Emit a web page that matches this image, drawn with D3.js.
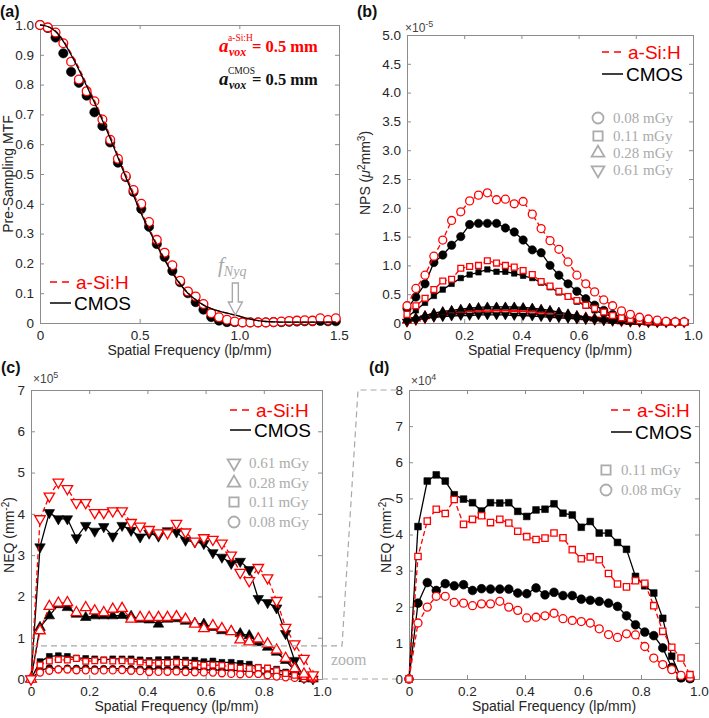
<!DOCTYPE html>
<html><head><meta charset="utf-8">
<script src="https://cdn.jsdelivr.net/npm/d3@7"></script>
<style>body{margin:0;background:#fff}svg{display:block}</style>
</head><body>
<svg id="fig" width="709" height="718"></svg>
<script>
// ---------------- DATA ----------------
// (a) pre-sampling MTF
const mtfFreq = [0,0.039,0.078,0.117,0.156,0.195,0.234,0.273,0.313,0.352,0.391,0.43,0.469,0.508,0.547,0.586,0.625,0.664,0.703,0.742,0.781,0.82,0.859,0.898,0.938,0.977,1.016,1.055,1.094,1.133,1.172,1.211,1.25,1.289,1.328,1.367,1.406,1.445,1.484];
const mtfASi = [1.0,0.992,0.975,0.939,0.877,0.817,0.778,0.744,0.683,0.615,0.551,0.493,0.446,0.40,0.339,0.279,0.236,0.194,0.142,0.106,0.089,0.064,0.033,0.019,0.011,0.005,0.002,0.002,0.002,0.002,0.003,0.005,0.007,0.008,0.009,0.008,0.016,0.01,0.016];
const mtfCMOS = [1.0,0.99,0.958,0.905,0.843,0.806,0.763,0.707,0.661,0.606,0.538,0.49,0.44,0.383,0.323,0.265,0.222,0.175,0.137,0.10,0.07,0.045,0.02,0.008,0.003,0.003,0.002,0.002,0.002,0.002,0.003,0.003,0.004,0.005,0.006,0.006,0.007,0.006,0.006];
const mtfFitASi = [1.0,0.995,0.98,0.948,0.905,0.856,0.802,0.747,0.688,0.628,0.563,0.498,0.436,0.375,0.318,0.265,0.216,0.172,0.133,0.102,0.079,0.061,0.048,0.04,0.033,0.027,0.02,0.013,0.008,0.005,0.004,0.003,0.003,0.003,0.003,0.003,0.003,0.003,0.003];
const mtfFitCMOS = [1.0,0.995,0.978,0.945,0.9,0.85,0.795,0.74,0.68,0.62,0.555,0.49,0.428,0.367,0.312,0.26,0.212,0.168,0.13,0.1,0.078,0.06,0.048,0.04,0.033,0.027,0.02,0.013,0.008,0.005,0.004,0.003,0.003,0.003,0.003,0.003,0.003,0.003,0.003];

// (b)-(d) frequency samples
const freq = [0,0.031,0.063,0.094,0.125,0.156,0.188,0.219,0.25,0.281,0.313,0.344,0.375,0.406,0.438,0.469,0.5,0.531,0.563,0.594,0.625,0.656,0.688,0.719,0.75,0.781,0.813,0.844,0.875,0.906,0.938,0.969];

// (b) NPS, units of 1e-5
const npsASi008 = [0.30,0.60,0.83,1.16,1.44,1.78,1.93,2.12,2.22,2.26,2.14,2.15,2.07,2.11,1.89,1.64,1.43,1.28,1.06,0.83,0.68,0.54,0.40,0.30,0.21,0.15,0.10,0.07,0.05,0.03,0.02,0.02];
const npsCMOS008 = [0.25,0.45,0.68,1.05,1.18,1.35,1.50,1.71,1.73,1.73,1.73,1.65,1.58,1.44,1.27,1.22,1.0,0.83,0.68,0.55,0.42,0.31,0.22,0.15,0.10,0.06,0.04,0.03,0.02,0.02,0.02,0.02];
const npsASi011 = [0.15,0.30,0.43,0.58,0.73,0.76,0.95,0.98,1.0,1.08,1.04,1.0,0.97,0.91,0.84,0.72,0.64,0.55,0.46,0.39,0.31,0.25,0.19,0.13,0.09,0.06,0.04,0.03,0.02,0.02,0.01,0.01];
const npsCMOS011 = [0.10,0.22,0.35,0.47,0.58,0.68,0.78,0.84,0.88,0.93,0.89,0.89,0.86,0.82,0.78,0.70,0.62,0.53,0.46,0.37,0.30,0.22,0.16,0.11,0.07,0.05,0.03,0.02,0.02,0.01,0.01,0.01];
const npsASi028 = [0.04,0.08,0.12,0.15,0.18,0.2,0.22,0.24,0.25,0.25,0.26,0.26,0.26,0.25,0.24,0.22,0.2,0.17,0.14,0.12,0.1,0.08,0.06,0.04,0.03,0.02,0.02,0.01,0.01,0.01,0.01,0.01];
const npsCMOS028 = [0.05,0.09,0.13,0.17,0.2,0.22,0.24,0.26,0.27,0.28,0.28,0.28,0.28,0.27,0.26,0.24,0.22,0.19,0.16,0.13,0.1,0.08,0.06,0.04,0.03,0.02,0.02,0.01,0.01,0.01,0.01,0.01];
const npsASi061 = [0.02,0.05,0.08,0.11,0.13,0.15,0.16,0.17,0.17,0.17,0.17,0.17,0.16,0.16,0.15,0.14,0.12,0.11,0.1,0.08,0.07,0.06,0.05,0.04,0.03,0.02,0.02,0.01,0.01,0.01,0.01,0.01];
const npsCMOS061 = [0.02,0.05,0.08,0.1,0.11,0.12,0.13,0.13,0.14,0.14,0.14,0.14,0.13,0.13,0.12,0.11,0.1,0.09,0.08,0.07,0.06,0.05,0.04,0.03,0.03,0.02,0.02,0.01,0.01,0.01,0.01,0.01];

// (c)/(d) NEQ, units of 1e4 mm^-2
const neqASi061 = [0,38.8,44.3,47.7,46.1,42.7,42.7,40.3,40.3,40.7,40.7,37.9,37.0,36.2,35.4,35.4,37.7,35.6,33.4,34.2,33.8,32.9,30.0,25.8,23.8,27.0,24.5,19.0,12.5,8.5,5.0,1.0];
const neqCMOS061 = [0,32.0,40.3,38.8,38.8,34.2,37.2,35.8,36.9,34.6,37.2,36.0,34.4,35.3,34.6,35.9,35.6,33.6,33.2,32.8,30.6,29.5,28.0,28.5,26.5,19.5,18.5,17.2,11.0,4.5,0.3,0];
const neqASi028 = [0,11.7,17.6,18.4,18.5,16.1,17.3,16.5,16.1,16.9,17.1,14.5,14.9,14.9,14.9,14.9,15.1,14.5,13.3,12.2,12.9,12.2,11.5,9.5,9.0,9.7,8.5,7.0,5.0,2.5,1.2,0.5];
const neqCMOS028 = [0,12.5,15.3,18.0,17.3,15.7,14.9,15.3,15.3,15.3,15.4,15.2,14.5,14.3,13.3,14.5,14.6,14.0,13.5,13.3,12.5,11.7,11.5,11.0,10.5,8.8,7.7,6.5,4.5,2.0,0.1,0];
const neqASi011 = [0,3.39,4.37,4.70,4.58,4.97,4.28,4.42,4.52,4.33,4.42,4.32,4.09,3.94,3.86,3.90,4.04,3.91,3.58,3.33,3.38,3.30,2.92,2.63,2.55,2.72,2.65,2.03,1.32,0.88,0.58,0.12];
const neqCMOS011 = [0,4.22,5.48,5.65,5.48,5.10,4.98,4.88,4.65,4.88,4.87,4.88,4.64,4.50,4.68,4.70,4.85,4.59,4.54,4.20,4.36,4.04,4.04,3.78,3.59,2.84,2.58,2.38,1.68,0.63,0.03,0.01];
const neqASi008 = [0,1.55,1.99,2.29,2.29,2.12,2.10,2.03,2.08,2.08,2.15,1.99,1.90,1.69,1.71,1.75,1.82,1.67,1.62,1.59,1.55,1.39,1.23,1.15,1.25,1.22,0.90,0.58,0.40,0.26,0.10,0.05];
const neqCMOS008 = [0,2.10,2.67,2.45,2.64,2.58,2.61,2.45,2.50,2.49,2.49,2.49,2.38,2.36,2.52,2.33,2.40,2.31,2.31,2.21,2.18,2.15,2.10,2.01,1.75,1.50,1.30,1.20,0.86,0.32,0.03,0.01];

// tick values / labels
const mtfXTicks = [0,0.5,1.0,1.5];
const mtfYTicks = [0,0.1,0.2,0.3,0.4,0.5,0.6,0.7,0.8,0.9,1.0];
const freqTicks = [0,0.2,0.4,0.6,0.8,1.0];
const npsYTicks = [0,0.5,1,1.5,2,2.5,3,3.5,4,4.5,5];
const neqCYTicks = [0,10,20,30,40,50,60,70];   // 1e4 units -> labelled in x10^5
const neqDYTicks = [0,1,2,3,4,5,6,7,8];        // 1e4 units
const zoomLevel = 8;                           // top of panel (d), 1e4 units
const doseLabelsB = ["0.08 mGy","0.11 mGy","0.28 mGy","0.61 mGy"];
const doseLabelsC = ["0.61 mGy","0.28 mGy","0.11 mGy","0.08 mGy"];
const doseLabelsD = ["0.11 mGy","0.08 mGy"];
const detectorNames = ["a-Si:H","CMOS"];

// ---------------- DRAWING ----------------
const svg = d3.select("#fig");
const SANS = "'Liberation Sans', Arial, Helvetica, sans-serif";
const SERIF = "'Liberation Serif', 'Times New Roman', serif";
const RED = "#ff0000", BOX = "#8c8c8c", TXT = "#262626", LEG = "#ababab";

const fmt1 = d => d === 0 ? "0" : d3.format(".1f")(d);
const fmtDiv10 = d => String(d/10);
const fmtInt = d => String(d);

function panel(b, xDom, yDom, xT, yT, xF, yF) {
  const x = d3.scaleLinear().domain(xDom).range([b.l, b.r]);
  const y = d3.scaleLinear().domain(yDom).range([b.b, b.t]);
  const g = svg.append("g");
  g.append("rect").attr("x", b.l).attr("y", b.t).attr("width", b.r-b.l).attr("height", b.b-b.t).attr("fill", "#fff");
  const style = s => {
    s.select(".domain").attr("stroke", BOX).attr("stroke-width", 1);
    s.selectAll(".tick line").attr("stroke", BOX);
    s.selectAll("text").attr("fill", TXT).attr("font-family", SANS).attr("font-size", 13.5);
  };
  g.append("g").attr("transform", `translate(0,${b.b})`)
    .call(d3.axisBottom(x).tickValues(xT).tickFormat(xF).tickSizeInner(-4).tickSizeOuter(0).tickPadding(7)).call(style);
  g.append("g").attr("transform", `translate(0,${b.t})`)
    .call(d3.axisTop(x).tickValues(xT).tickFormat("").tickSizeInner(-4).tickSizeOuter(0)).call(style);
  g.append("g").attr("transform", `translate(${b.l},0)`)
    .call(d3.axisLeft(y).tickValues(yT).tickFormat(yF).tickSizeInner(-4).tickSizeOuter(0).tickPadding(6)).call(style);
  g.append("g").attr("transform", `translate(${b.r},0)`)
    .call(d3.axisRight(y).tickValues(yT).tickFormat("").tickSizeInner(-4).tickSizeOuter(0)).call(style);
  g.selectAll(".domain").attr("stroke-linecap", "square");
  g.append("text").attr("x", (b.l+b.r)/2).attr("y", b.b+32).attr("text-anchor", "middle")
    .attr("font-family", SANS).attr("font-size", 14).attr("fill", TXT).text("Spatial Frequency (lp/mm)");
  const data = g.append("g");
  return {x, y, g: data, root: g};
}

const symType = {circle: d3.symbolCircle, square: d3.symbolSquare, up: d3.symbolTriangle, down: d3.symbolTriangle};
function series(P, xs, ys, opt) {
  const pts = xs.map((d, i) => [d, ys[i]]);
  if (opt.line) {
    P.g.append("path").datum(pts)
      .attr("d", d3.line().x(d => P.x(d[0])).y(d => P.y(d[1])).curve(opt.curve || d3.curveLinear))
      .attr("fill", "none").attr("stroke", opt.color).attr("stroke-width", opt.lw || 1.3)
      .attr("stroke-dasharray", opt.dash ? "5,3" : null);
  }
  if (opt.shape) {
    const sym = d3.symbol().type(symType[opt.shape]).size(opt.size);
    P.g.append("g").selectAll("path").data(pts).join("path")
      .attr("d", sym)
      .attr("transform", d => `translate(${P.x(d[0])},${P.y(d[1])})` + (opt.shape === "down" ? " rotate(180)" : ""))
      .attr("fill", opt.filled ? opt.color : "#fff")
      .attr("stroke", opt.color).attr("stroke-width", opt.filled ? 0.6 : 1.3);
  }
}

function yTitle(x, y, parts) {
  const t = svg.append("text").attr("transform", `translate(${x},${y}) rotate(-90)`)
    .attr("text-anchor", "middle").attr("font-family", SANS).attr("font-size", 14).attr("fill", TXT);
  parts.forEach(p => {
    const s = t.append("tspan").text(p.t);
    if (p.sup) s.attr("dy", -5).attr("font-size", 10);
    if (p.back) s.attr("dy", 5);
    if (p.it) s.attr("font-style", "italic");
  });
}
function expLabel(x, y, exp) {
  const t = svg.append("text").attr("x", x).attr("y", y).attr("font-family", SANS).attr("font-size", 12).attr("fill", "#444");
  t.append("tspan").text("×10");
  t.append("tspan").attr("dy", -5).attr("font-size", 9).text(exp);
}
function panelLabel(x, y, s) {
  svg.append("text").attr("x", x).attr("y", y).attr("font-family", SANS).attr("font-weight", "bold")
    .attr("font-size", 16).attr("fill", "#111").text(s);
}
function detLegend(x, y1, y2) {
  svg.append("line").attr("x1", x).attr("x2", x+19).attr("y1", y1).attr("y2", y1)
    .attr("stroke", RED).attr("stroke-width", 1.5).attr("stroke-dasharray", "7,5");
  svg.append("text").attr("x", x+26).attr("y", y1).attr("dy", "0.35em").attr("font-family", SANS)
    .attr("font-size", 19).attr("fill", RED).text(detectorNames[0]);
  svg.append("line").attr("x1", x).attr("x2", x+21).attr("y1", y2).attr("y2", y2)
    .attr("stroke", "#000").attr("stroke-width", 1.5);
  svg.append("text").attr("x", x+24).attr("y", y2).attr("dy", "0.35em").attr("font-family", SANS)
    .attr("font-size", 19).attr("fill", "#000").text(detectorNames[1]);
}
function doseLegend(x, ys, shapes, labels) {
  const sizes = {circle: 95, square: 85, up: 70, down: 70};
  shapes.forEach((s, i) => {
    svg.append("path").attr("d", d3.symbol().type(symType[s]).size(sizes[s])())
      .attr("transform", `translate(${x},${ys[i]})` + (s === "down" ? " rotate(180)" : ""))
      .attr("fill", "none").attr("stroke", LEG).attr("stroke-width", 1.8);
    svg.append("text").attr("x", x+15).attr("y", ys[i]).attr("dy", "0.35em").attr("font-family", SERIF)
      .attr("font-size", 15).attr("fill", LEG).text(labels[i]);
  });
}

// ---- (a) ----
const A = panel({l:40, r:339, t:25, b:323}, [0,1.5], [0,1], mtfXTicks, mtfYTicks, fmt1, fmt1);
series(A, mtfFreq, mtfCMOS, {color:"#000", shape:"circle", size:68, filled:true});
series(A, mtfFreq, mtfASi, {color:RED, shape:"circle", size:60, filled:false});
series(A, mtfFreq, mtfFitASi, {color:RED, line:true, dash:true, curve:d3.curveMonotoneX});
series(A, mtfFreq, mtfFitCMOS, {color:"#000", line:true, curve:d3.curveMonotoneX});
yTitle(13, 174, [{t:"Pre-Sampling MTF"}]);
panelLabel(0, 17, "(a)");
detLegend(50, 282, 303);
function avox(y, sup, color) {
  const g = svg.append("g").attr("fill", color).attr("font-family", SERIF).attr("font-weight", "bold");
  g.append("text").attr("x", 219).attr("y", y).attr("font-size", 19).attr("font-style", "italic").text("a");
  g.append("text").attr("x", 229).attr("y", y+4).attr("font-size", 12).attr("font-style", "italic").text("vox");
  g.append("text").attr("x", 228).attr("y", y-11).attr("font-size", 9.5).attr("font-weight", "normal").text(sup);
  g.append("text").attr("x", 252).attr("y", y).attr("font-size", 16.5).text("= 0.5 mm");
}
avox(52, "a-Si:H", RED);
avox(85, "CMOS", "#111");
const fn = svg.append("text").attr("x", 218).attr("y", 272).attr("font-family", SERIF).attr("font-style", "italic")
  .attr("fill", "#a8a8a8").attr("font-size", 21);
fn.append("tspan").text("f");
fn.append("tspan").attr("dy", 4).attr("font-size", 14).text("Nyq");
const ax0 = A.x(mtfXTicks[2]) - 4;
svg.append("path").attr("d", `M${ax0-3},283 V302 H${ax0-7} L${ax0},315 L${ax0+7},302 H${ax0+3} V283 Z`)
  .attr("fill", "#fff").attr("stroke", "#a8a8a8").attr("stroke-width", 1.4);

// ---- (b) ----
const B = panel({l:407, r:693, t:35, b:323}, [0,1], [0,5], freqTicks, npsYTicks, fmt1, fmt1);
series(B, freq, npsASi061, {color:RED, line:true, dash:true, shape:"down", size:30});
series(B, freq, npsASi028, {color:RED, line:true, dash:true, shape:"up", size:30});
series(B, freq, npsCMOS061, {color:"#000", line:true, shape:"down", size:32, filled:true});
series(B, freq, npsCMOS028, {color:"#000", line:true, shape:"up", size:32, filled:true});
series(B, freq, npsCMOS011, {color:"#000", line:true, shape:"square", size:30, filled:true});
series(B, freq, npsCMOS008, {color:"#000", line:true, shape:"circle", size:55, filled:true});
series(B, freq, npsASi011, {color:RED, line:true, dash:true, shape:"square", size:34});
series(B, freq, npsASi008, {color:RED, line:true, dash:true, shape:"circle", size:50});
yTitle(370, 173, [{t:"NPS ("},{t:"μ", it:true},{t:"2", sup:true},{t:"mm", back:true},{t:"3", sup:true},{t:")", back:true}]);
expLabel(405, 32, "-5");
panelLabel(357, 17, "(b)");
detLegend(602, 52, 74);
doseLegend(598, [118,136,153,170], ["circle","square","up","down"], doseLabelsB);

// ---- (c) ----
const C = panel({l:31, r:322, t:390, b:679}, [0,1], [0,70], freqTicks, neqCYTicks, fmt1, fmtDiv10);
const zoomY = C.y(zoomLevel);
function dline(d) {
  svg.append("path").attr("d", d).attr("fill", "none").attr("stroke", "#a8a8a8")
    .attr("stroke-width", 1.2).attr("stroke-dasharray", "6,4");
}
dline(`M${C.x(0)},${zoomY} H342 L358,390 H400`);
dline(`M${C.x(1)},679 H400`);
series(C, freq, neqCMOS008, {color:"#000", line:true, shape:"circle", size:36, filled:true});
series(C, freq, neqCMOS011, {color:"#000", line:true, shape:"square", size:34, filled:true});
series(C, freq, neqCMOS028, {color:"#000", line:true, shape:"up", size:48, filled:true});
series(C, freq, neqCMOS061, {color:"#000", line:true, shape:"down", size:48, filled:true});
series(C, freq, neqASi008, {color:RED, line:true, dash:true, shape:"circle", size:38});
series(C, freq, neqASi011, {color:RED, line:true, dash:true, shape:"square", size:32});
series(C, freq, neqASi028, {color:RED, line:true, dash:true, shape:"up", size:48});
series(C, freq, neqASi061, {color:RED, line:true, dash:true, shape:"down", size:48});
yTitle(14, 535, [{t:"NEQ (mm"},{t:"-2", sup:true},{t:")", back:true}]);
expLabel(33, 383, "5");
panelLabel(1, 373, "(c)");
detLegend(230, 410, 430);
doseLegend(234, [463,483,502,522], ["down","up","square","circle"], doseLabelsC);
svg.append("text").attr("x", 331).attr("y", 665).attr("font-family", SERIF).attr("font-size", 16)
  .attr("fill", "#b0b0b0").text("zoom");

// ---- (d) ----
const D = panel({l:409, r:699, t:390, b:679}, [0,1], [0,8], freqTicks, neqDYTicks, fmt1, fmtInt);
series(D, freq, neqCMOS008, {color:"#000", line:true, shape:"circle", size:60, filled:true});
series(D, freq, neqCMOS011, {color:"#000", line:true, shape:"square", size:45, filled:true});
series(D, freq, neqASi008, {color:RED, line:true, dash:true, shape:"circle", size:50});
series(D, freq, neqASi011, {color:RED, line:true, dash:true, shape:"square", size:40});
yTitle(391, 535, [{t:"NEQ (mm"},{t:"-2", sup:true},{t:")", back:true}]);
expLabel(411, 385, "4");
panelLabel(369, 373, "(d)");
detLegend(611, 410, 432);
doseLegend(606, [470,490], ["square","circle"], doseLabelsD);
</script>
</body></html>
